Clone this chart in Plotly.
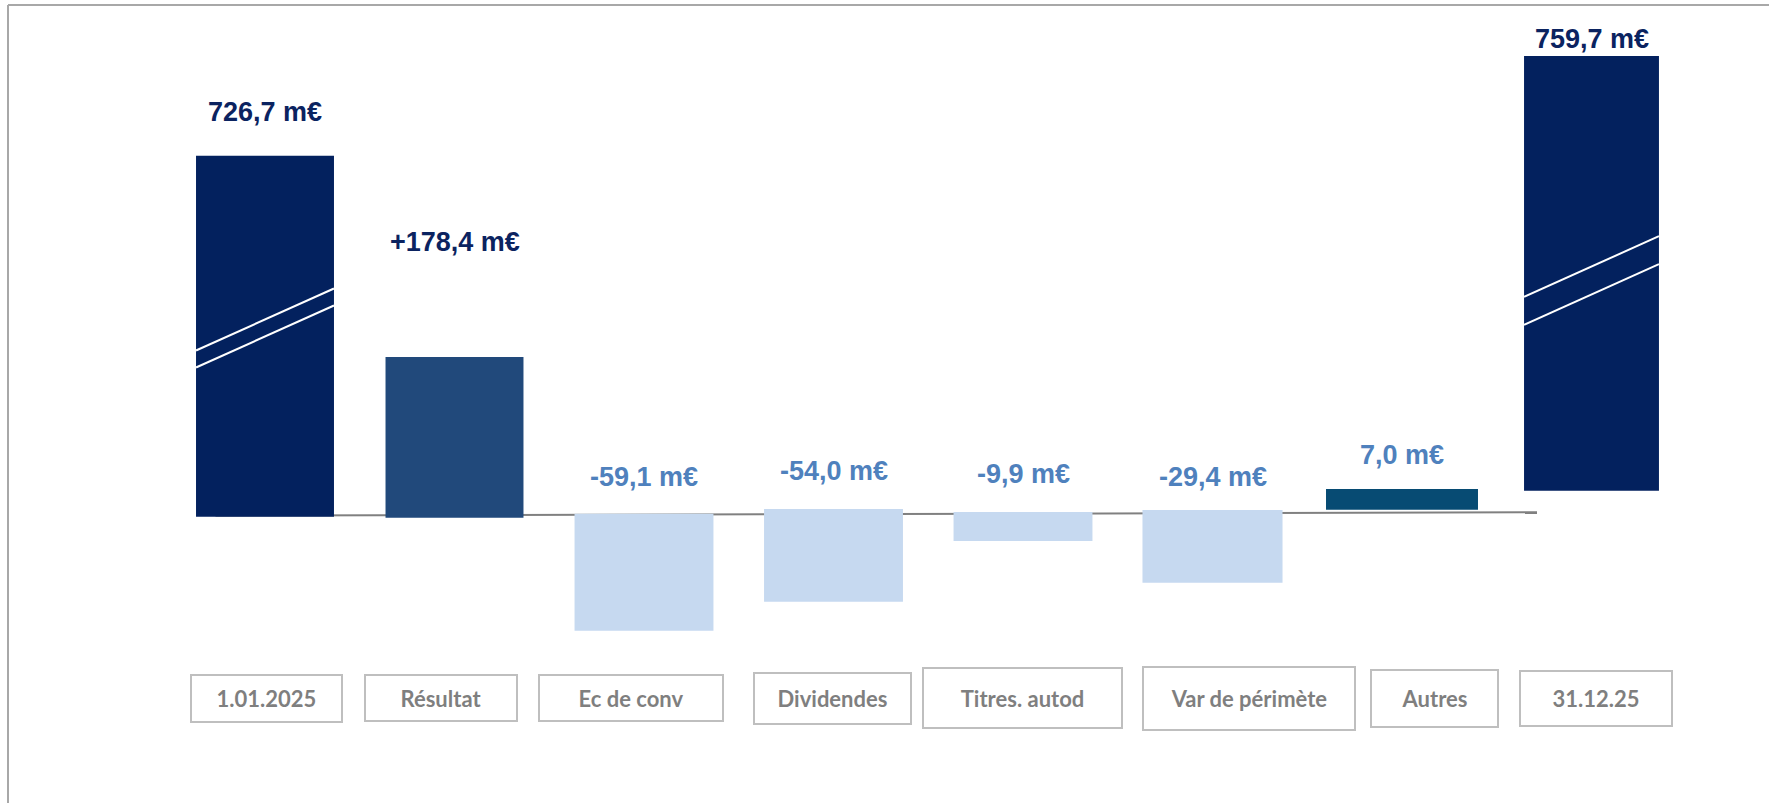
import plotly.graph_objects as go

# ---------------- data ----------------
categories = ["1.01.2025", "Résultat", "Ec de conv", "Dividendes",
              "Titres. autod", "Var de périmète", "Autres", "31.12.25"]
values = [726.7, 178.4, -59.1, -54.0, -9.9, -29.4, 7.0, 759.7]          # m€
value_labels = ["726,7 m€", "+178,4 m€", "-59,1 m€", "-54,0 m€",
                "-9,9 m€", "-29,4 m€", "7,0 m€", "759,7 m€"]
# The source slide is not drawn to scale (broken bars): drawn extents in display units
drawn_base = [-2.7, -3.7, 0.3, 5.0, 2.0, 4.0, 4.3, 23.3]
drawn_height = [361.0, 160.7, -117.0, -92.7, -29.0, -72.7, 20.7, 434.7]
break_level = [186, None, None, None, None, None, None, 233.5]          # axis-break marks

# ---------------- styles ----------------
W, H = 1769, 803
X0_PX, STEP_PX = 265.0, 189.5       # category spacing on the slide
BASE_PX = 514.0                     # baseline height on the slide
bar_colors = ["#03215E", "#21497B", "#C6D9F0", "#C6D9F0",
              "#C6D9F0", "#C6D9F0", "#074B73", "#03215E"]
bar_widths = [0.728, 0.728, 0.733, 0.733, 0.733, 0.739, 0.802, 0.712]
label_colors = ["#0B2360", "#0B2360", "#4F81BD", "#4F81BD",
                "#4F81BD", "#4F81BD", "#4F81BD", "#0B2360"]
label_gaps = [44, 115, 37, 38, 38, 33, 34, 17]
break_gaps = [17, 0, 0, 0, 0, 0, 0, 28]
box_w = [151, 152, 184, 157, 199, 212, 127, 152]
box_h = [47, 46, 46, 51, 60, 63, 57, 55]
box_shift = [1, -14, -13, -1, -1, 36, 32, 4]
BOX_CY_PX = 698
VAL_FONT = "Liberation Sans, Arial, sans-serif"
CAT_FONT = "Lato, Carlito, sans-serif"

fig = go.Figure()
fig.add_trace(go.Bar(
    x=categories, y=drawn_height, base=drawn_base,
    width=bar_widths, marker=dict(color=bar_colors, line=dict(width=0)),
    customdata=values, hovertemplate="%{x}: %{customdata} m€<extra></extra>",
    showlegend=False,
))

shapes = []
# baseline
shapes.append(dict(type="line", xref="x", yref="y",
                   x0=(215.5 - X0_PX) / STEP_PX, y0=-1.7,
                   x1=(1537 - X0_PX) / STEP_PX, y1=1.7,
                   line=dict(color="#808080", width=2), layer="below"))
# axis-break marks on the broken bars
for i, lvl in enumerate(break_level):
    if lvl is None:
        continue
    hw = bar_widths[i] / 2
    rise = 0.449 * bar_widths[i] * STEP_PX
    for off in (break_gaps[i] / 2, -break_gaps[i] / 2):
        shapes.append(dict(type="line", xref="x", yref="y",
                           x0=i - hw, y0=lvl + off - rise / 2,
                           x1=i + hw, y1=lvl + off + rise / 2,
                           line=dict(color="white", width=2), layer="above"))
# slide frame (top and left edges)
shapes.append(dict(type="line", xref="paper", yref="paper",
                   x0=8 / W, y0=1 - 5 / H, x1=1, y1=1 - 5 / H,
                   line=dict(color="#A8A8A8", width=2)))
shapes.append(dict(type="line", xref="paper", yref="paper",
                   x0=8 / W, y0=0, x1=8 / W, y1=1 - 5 / H,
                   line=dict(color="#A8A8A8", width=2)))

annotations = []
for i, cat in enumerate(categories):
    top = max(drawn_base[i], drawn_base[i] + drawn_height[i])
    annotations.append(dict(
        x=cat, y=top, xref="x", yref="y", text=value_labels[i],
        showarrow=False, yanchor="middle", yshift=label_gaps[i],
        font=dict(family=VAL_FONT, size=27, color=label_colors[i], weight="bold"),
    ))
    annotations.append(dict(
        x=cat, y=1 - BOX_CY_PX / H, xref="x", yref="paper", text=cat,
        showarrow=False, yanchor="middle", xanchor="center", xshift=box_shift[i],
        width=box_w[i] - 2, height=box_h[i] - 2, valign="middle",
        bordercolor="#BFBFBF", borderwidth=2, borderpad=0, bgcolor="white",
        font=dict(family=CAT_FONT, size=22, color="#7F7F7F", weight="bold"),
    ))

fig.update_layout(
    width=W, height=H,
    margin=dict(l=0, r=0, t=0, b=0),
    paper_bgcolor="white", plot_bgcolor="white",
    xaxis=dict(visible=False, type="category",
               range=[-X0_PX / STEP_PX, (W - X0_PX) / STEP_PX]),
    yaxis=dict(visible=False, range=[-(H - BASE_PX), BASE_PX]),
    shapes=shapes, annotations=annotations,
)

fig.write_html("out.html", config={"displayModeBar": False},
               post_script="document.body.style.margin='0';")
